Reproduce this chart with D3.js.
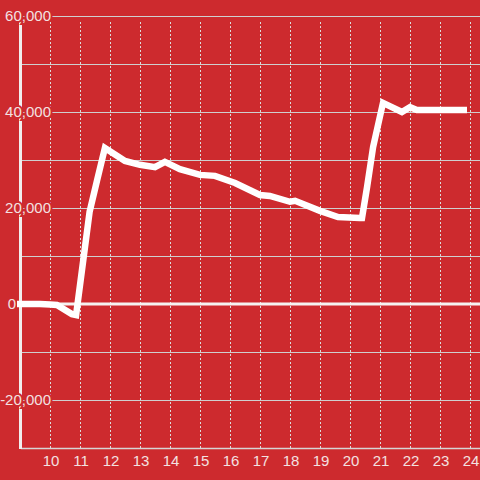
<!DOCTYPE html>
<html>
<head>
<meta charset="utf-8">
<script src="https://cdn.jsdelivr.net/npm/d3@7"></script>
<style>
  html, body { margin: 0; padding: 0; background: #cd2a2e; }
  svg { display: block; font-family: "Liberation Sans", Arial, sans-serif; }
</style>
</head>
<body>
<div class="js-chart"></div>
<script>
'use strict';

// hour of day and value
var hours = [8.9, 9.67, 10.0, 10.23, 10.73, 10.87, 11.32, 11.57, 11.83, 12.5, 13.0, 13.5, 13.83,
    14.33, 15.0, 15.5, 16.17, 17.0, 17.33, 18.0, 18.17, 19.0, 19.6, 20.33, 20.4, 20.57, 20.77,
    21.1, 21.73, 22.0, 22.23, 23.9];
var values = [0, 0, -100, -200, -2100, -2300, 19200, 25800, 32500, 29800, 29000, 28500, 29600,
    28100, 26900, 26700, 25200, 22700, 22500, 21300, 21500, 19400, 18100, 17900, 17900, 24400, 32700,
    41900, 40000, 41000, 40400, 40400];

var xTicks = [10, 11, 12, 13, 14, 15, 16, 17, 18, 19, 20, 21, 22, 23, 24];
var yGrid = [60000, 50000, 40000, 30000, 20000, 10000, -10000, -20000];
var yLabels = [60000, 40000, 20000, 0, -20000];

var bg = '#cd2a2e';
var W = 480, H = 480;

var svg = d3.select('.js-chart').append('svg')
    .attr('width', W)
    .attr('height', H);

var x = d3.scaleLinear().domain([9, 24]).range([20, 470]);
var y = d3.scaleLinear().domain([-30000, 60000]).range([448, 16]);

svg.append('rect').attr('width', W).attr('height', H).style('fill', bg);

//horizontal grid
svg.selectAll('.js-hgrid').data(yGrid).enter().append('line')
    .attr('class', 'js-hgrid')
    .attr('x1', 21).attr('x2', W)
    .attr('y1', function (d) { return y(d) + 0.5; })
    .attr('y2', function (d) { return y(d) + 0.5; })
    .style('stroke', '#cfcfcf')
    .style('stroke-width', 1);

//vertical dashed grid
svg.selectAll('.js-vgrid').data(xTicks).enter().append('line')
    .attr('class', 'js-vgrid')
    .attr('x1', function (d) { return x(d) + 0.5; })
    .attr('x2', function (d) { return x(d) + 0.5; })
    .attr('y1', y.range()[1] + 6).attr('y2', y.range()[0])
    .style('stroke', '#dcdcdc')
    .style('stroke-width', 1)
    .style('stroke-dasharray', '2,2');

//bottom axis line
svg.append('line')
    .attr('x1', 21).attr('x2', W)
    .attr('y1', y.range()[0] + 0.5).attr('y2', y.range()[0] + 0.5)
    .style('stroke', '#d6d6d6')
    .style('stroke-width', 1.5);

//y axis line
svg.append('line')
    .attr('x1', 20.5).attr('x2', 20.5)
    .attr('y1', y.range()[1]).attr('y2', y.range()[0] + 1)
    .style('stroke', '#f1eeee')
    .style('stroke-width', 3);

//zero line
svg.append('line')
    .attr('x1', 17).attr('x2', W)
    .attr('y1', y(0)).attr('y2', y(0))
    .style('stroke', '#f5f1f0')
    .style('stroke-width', 3);

//y labels with a background halo
svg.selectAll('.js-ylab').data(yLabels).enter().append('text')
    .attr('class', 'js-ylab')
    .attr('x', function (d) { return d === 0 ? 16 : 51; })
    .attr('y', function (d) { return y(d); })
    .attr('dy', '0.35em')
    .attr('text-anchor', 'end')
    .style('font-size', '15px')
    .style('fill', '#f3e1e1')
    .style('stroke', bg)
    .style('stroke-width', 4)
    .style('paint-order', 'stroke')
    .text(function (d) { return d3.format(',')(d).replace('−', '-'); });

//x labels
svg.selectAll('.js-xlab').data(xTicks).enter().append('text')
    .attr('class', 'js-xlab')
    .attr('x', function (d) { return x(d) + 1; })
    .attr('y', 466)
    .attr('text-anchor', 'middle')
    .style('font-size', '15px')
    .style('fill', '#f3e1e1')
    .text(function (d) { return d; });

//series
var line = d3.line()
    .x(function (d) { return x(d[0]); })
    .y(function (d) { return y(d[1]); });

svg.append('path')
    .datum(d3.zip(hours, values))
    .attr('d', line)
    .style('fill', 'none')
    .style('stroke', '#ffffff')
    .style('stroke-width', 6.5)
    .style('stroke-linejoin', 'miter');
</script>
</body>
</html>
